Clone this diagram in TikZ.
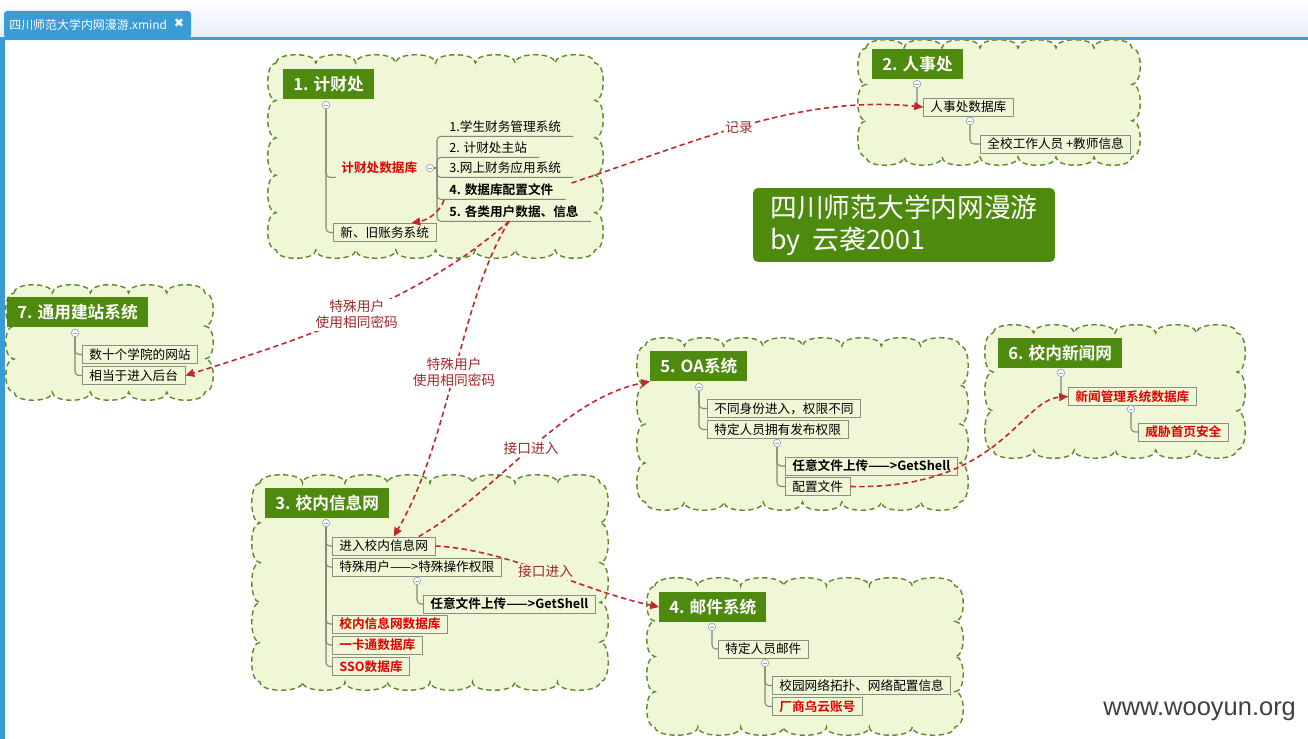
\documentclass[tikz,border=0pt]{standalone}
\usepackage{fontspec}
\setmainfont{Noto Sans CJK SC}[BoldFont={Noto Sans CJK SC Bold}]
\newfontfamily\wmfont{Liberation Sans}
\newfontfamily\symfont{DejaVu Sans}
\usepackage{tikz}
\usetikzlibrary{arrows.meta, positioning}

\definecolor{topicgreen}{HTML}{4E8A0E}
\definecolor{cloudfill}{HTML}{EFF7D6}
\definecolor{cloudline}{HTML}{5E8A2E}
\definecolor{relred}{HTML}{C0282D}
\definecolor{labelred}{HTML}{9E2A2B}
\definecolor{boxline}{HTML}{8C8F80}
\definecolor{branchgray}{HTML}{85877A}
\definecolor{foldline}{HTML}{98A4B4}
\definecolor{tabblue}{HTML}{3A9BD5}
\definecolor{hdrgray}{HTML}{E6EDF6}
\definecolor{hotred}{HTML}{E00000}
\definecolor{wmgray}{HTML}{404040}

% scalloped area: x1, y1, x2, y2, bumps across, bumps down
\newcommand{\cloudarea}[6]{%
  \draw[cloudy] (#1,#2)
    \foreach \i in {1,...,#5} { .. controls +(0,-11) and +(0,-11) .. ({#1+(#3-#1)*\i/#5},#2) }
    \foreach \i in {1,...,#6} { .. controls +(11,0) and +(11,0) .. (#3,{#2+(#4-#2)*\i/#6}) }
    \foreach \i in {1,...,#5} { .. controls +(0,11) and +(0,11) .. ({#3-(#3-#1)*\i/#5},#4) }
    \foreach \i in {1,...,#6} { .. controls +(-11,0) and +(-11,0) .. (#1,{#4-(#4-#2)*\i/#6}) }
    -- cycle;}

\begin{document}
\begin{tikzpicture}[
  x=0.02cm, y=-0.02cm,
  topic/.style={
    rectangle, fill=topicgreen, text=white, anchor=west,
    minimum height=0.6cm, inner xsep=0.2cm,
    font=\fontsize{9.5}{11}\selectfont\bfseries
  },
  item/.style={
    rectangle, draw=boxline, line width=0.5pt, anchor=west,
    minimum height=0.36cm, inner xsep=0.14cm, inner ysep=0pt,
    font=\fontsize{7.2}{8}\selectfont
  },
  plain/.style={
    rectangle, anchor=west, minimum height=0.36cm,
    inner xsep=0.1cm, inner ysep=0pt, font=\fontsize{7.2}{8}\selectfont
  },
  hot/.style={text=hotred, font=\fontsize{7.2}{8}\selectfont\bfseries},
  strong/.style={font=\fontsize{7.2}{8}\selectfont\bfseries},
  fold/.style={
    circle, draw=foldline, fill=white, line width=0.4pt,
    inner sep=0pt, minimum size=0.15cm,
    path picture={\draw[foldline, line width=0.5pt]
      ([xshift=-0.04cm]path picture bounding box.center) --
      ([xshift=0.04cm]path picture bounding box.center);}
  },
  branch/.style={draw=branchgray, line width=0.6pt, rounded corners=0.08cm},
  rel/.style={draw=relred, line width=0.9pt, dash pattern=on 3pt off 2pt,
    -{Triangle[length=5pt, width=4.5pt]}},
  rellabel/.style={fill=white, text=labelred, inner sep=1pt, align=center,
    font=\fontsize{7.8}{9}\selectfont},
  cloudy/.style={draw=cloudline, fill=cloudfill, line width=0.8pt,
    dash pattern=on 3pt off 2pt}
]
\useasboundingbox (0,0) rectangle (1308,739);
\fill[white] (0,0) rectangle (1308,739);

% clouds
\cloudarea{276}{63}{595}{250}{8}{5}
\cloudarea{866}{48}{1132}{157}{7}{3}
\cloudarea{14}{293}{205}{392}{5}{3}
\cloudarea{260}{483}{600}{682}{8}{5}
\cloudarea{645}{346}{960}{502}{8}{4}
\cloudarea{993}{333}{1237}{450}{6}{3}
\cloudarea{655}{586}{955}{727}{7}{4}

% window header
\shade[top color=white, bottom color=hdrgray] (0,0) rectangle (1308,37);
\fill[tabblue, rounded corners=0.06cm] (4,38) -- (4,11) -- (191,11) -- (191,38) -- cycle;
\node[anchor=west, text=white, inner sep=0pt, font=\fontsize{6.8}{7}\selectfont] (tab) at (9,24.5) {四川师范大学内网漫游.xmind};
\node[text=white, inner sep=0pt, font=\symfont\fontsize{7}{8}\selectfont] (tabx) at (179,23.5) {✖};
\fill[tabblue] (0,37) rectangle (1308,40);
\fill[tabblue] (0,37) rectangle (5,739);

% 1. 计财处
\node[topic] (t1) at (283,84) {1. 计财处};
\node[fold] (f1) at (326,105) {};
\node[plain, hot] (d1) at (336,168) {计财处数据库};
\node[fold] (f1b) at (430,168) {};
\coordinate (j1) at (437,168);
\node[plain] (k1) at (444,127) {1.学生财务管理系统};
\node[plain] (k2) at (444,148) {2. 计财处主站};
\node[plain] (k3) at (444,168) {3.网上财务应用系统};
\node[plain, strong] (k4) at (444,190) {4. 数据库配置文件};
\node[plain, strong] (k5) at (444,212) {5. 各类用户数据、信息};
\node[item] (o1) at (333,232.5) {新、旧账务系统};
\draw[branch] (f1.south) |- (d1.south west);
\draw[branch] (f1.south) |- (o1.west);
\draw[branch] (f1b.east) -- (j1);
\foreach \k in {k1,k2,k3,k4,k5}
  \draw[branch] (j1) |- ([xshift=0.14cm]\k.south east);

% 2. 人事处
\node[topic] (t2) at (872,64.5) {2. 人事处};
\node[fold] (f2) at (917,84) {};
\node[item] (r2a) at (923,107) {人事处数据库};
\node[fold] (f2b) at (970,121) {};
\node[item] (r2b) at (980,144) {全校工作人员 +教师信息};
\draw[branch] (f2.south) |- (r2a.west);
\draw[branch] (f2b.south) |- (r2b.west);

% title
\node[fill=topicgreen, rounded corners=0.1cm, minimum width=6.04cm,
      minimum height=1.48cm, text=white, align=left,
      font=\fontsize{15.2}{18}\selectfont] (title) at (904,225)
      {四川师范大学内网漫游\\by\ \ 云袭2001};

% 7. 通用建站系统
\node[topic] (t7) at (7,312.5) {7. 通用建站系统};
\node[fold] (f7) at (75,333) {};
\node[item] (g7a) at (82,354.5) {数十个学院的网站};
\node[item] (g7b) at (82,375.5) {相当于进入后台};
\draw[branch] (f7.south) |- (g7a.west);
\draw[branch] (f7.south) |- (g7b.west);

% 3. 校内信息网
\node[topic] (t3) at (265,503) {3. 校内信息网};
\node[fold] (f3) at (326,523) {};
\node[item] (x3a) at (332,546) {进入校内信息网};
\node[item] (x3b) at (332,567) {特殊用户——>特殊操作权限};
\node[fold] (f3b) at (417,581) {};
\node[item, strong] (x3c) at (423,604) {任意文件上传——>GetShell};
\node[item, hot] (x3d) at (332,624) {校内信息网数据库};
\node[item, hot] (x3e) at (332,645) {一卡通数据库};
\node[item, hot] (x3f) at (332,666.5) {SSO数据库};
\foreach \x in {x3a,x3b,x3d,x3e,x3f}
  \draw[branch] (f3.south) |- (\x.west);
\draw[branch] (f3b.south) |- (x3c.west);

% 5. OA系统
\node[topic] (t5) at (650,366) {5. OA系统};
\node[fold] (f5) at (699,387) {};
\node[item] (o5a) at (707,408.5) {不同身份进入，权限不同};
\node[item] (o5b) at (707,429.5) {特定人员拥有发布权限};
\node[fold] (f5b) at (777,443) {};
\node[item, strong] (o5c) at (785,466) {任意文件上传——>GetShell};
\node[item] (o5d) at (785,486.5) {配置文件};
\draw[branch] (f5.south) |- (o5a.west);
\draw[branch] (f5.south) |- (o5b.west);
\draw[branch] (f5b.south) |- (o5c.west);
\draw[branch] (f5b.south) |- (o5d.west);

% 6. 校内新闻网
\node[topic] (t6) at (998,353) {6. 校内新闻网};
\node[fold] (f6) at (1061,373) {};
\node[item, hot] (n6a) at (1068,396.5) {新闻管理系统数据库};
\node[fold] (f6b) at (1131,409) {};
\node[item, hot] (n6b) at (1138,432) {威胁首页安全};
\draw[branch] (f6.south) |- (n6a.west);
\draw[branch] (f6b.south) |- (n6b.west);

% 4. 邮件系统
\node[topic] (t4) at (659,607) {4. 邮件系统};
\node[fold] (f4) at (712,627) {};
\node[item] (m4a) at (718,649) {特定人员邮件};
\node[fold] (f4b) at (765,663) {};
\node[item] (m4b) at (772,685.5) {校园网络拓扑、网络配置信息};
\node[item, hot] (m4c) at (772,706.5) {厂商乌云账号};
\draw[branch] (f4.south) |- (m4a.west);
\draw[branch] (f4b.south) |- (m4b.west);
\draw[branch] (f4b.south) |- (m4c.west);

% relationships
\draw[rel] ([xshift=0.26cm, yshift=0.14cm]k4.east) .. controls (700,140) and (800,95) ..
  node[rellabel, pos=0.47] {记录} (r2a.west);
\draw[rel] ([yshift=-0.2cm]k4.west) .. controls (440,212) and (428,220) ..
  ([xshift=-0.5cm]o1.north east);
\draw[rel] ([xshift=-0.1cm]k5.south) .. controls (420,300) and (300,340) ..
  node[rellabel, pos=0.5] {特殊用户\\使用相同密码} (g7b.east);
\draw[rel] ([xshift=-0.1cm]k5.south) .. controls (460,300) and (450,440) ..
  node[rellabel, pos=0.5] {特殊用户\\使用相同密码} ([xshift=0.2cm]x3a.north);
\draw[rel] ([xshift=0.7cm]x3a.north) .. controls (500,490) and (560,400) ..
  node[rellabel, pos=0.5] {接口进入} (t5.south west);
\draw[rel] (x3a.east) .. controls (510,550) and (580,590) ..
  node[rellabel, fill=cloudfill, pos=0.5] {接口进入} (t4.west);
\draw[rel] (o5d.east) .. controls (1000,490) and (1020,400) .. (n6a.west);

% watermark
\node[anchor=west, text=wmgray, inner sep=0pt, font=\wmfont\fontsize{14.5}{16}\selectfont] (wm) at (1103,711) {www.wooyun.org};

\end{tikzpicture}
\end{document}
